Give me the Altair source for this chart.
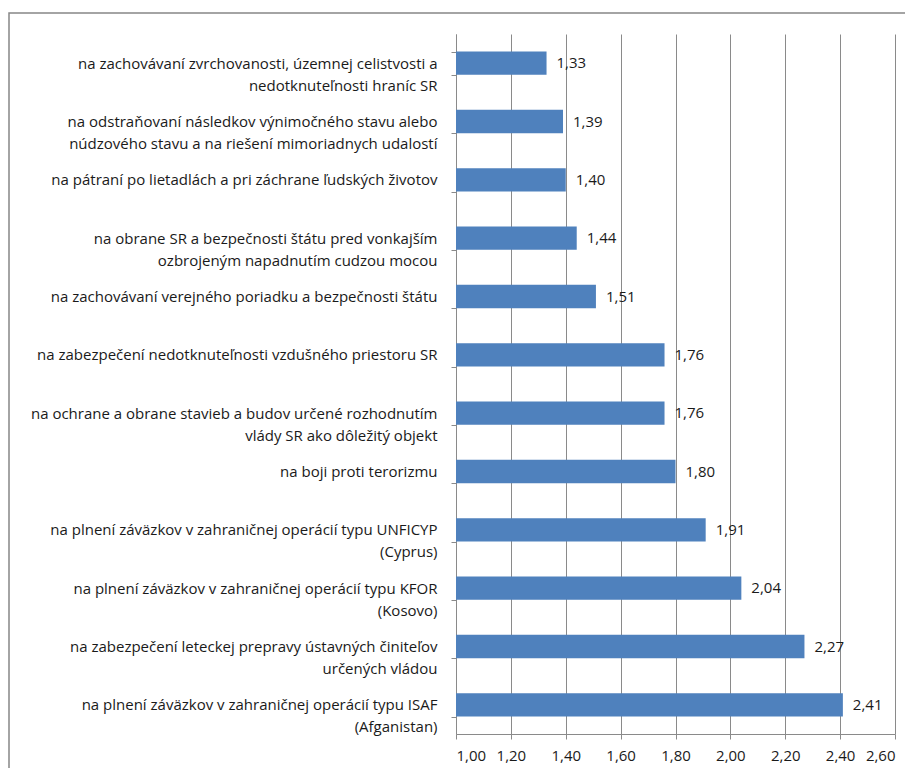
import altair as alt
import pandas as pd

labels = [
    "na zachovávaní zvrchovanosti, územnej celistvosti a|nedotknuteľnosti hraníc SR",
    "na odstraňovaní následkov výnimočného stavu alebo|núdzového stavu a  na riešení mimoriadnych udalostí",
    "na pátraní po lietadlách a pri záchrane ľudských životov",
    "na obrane SR a bezpečnosti štátu pred vonkajším|ozbrojeným napadnutím cudzou mocou",
    "na zachovávaní verejného poriadku a bezpečnosti štátu",
    "na zabezpečení nedotknuteľnosti vzdušného priestoru SR",
    "na ochrane a obrane stavieb a budov určené rozhodnutím|vlády SR  ako dôležitý objekt",
    "na boji proti terorizmu",
    "na plnení záväzkov v zahraničnej operácií typu UNFICYP|(Cyprus)",
    "na plnení záväzkov v zahraničnej operácií typu KFOR|(Kosovo)",
    "na zabezpečení leteckej prepravy ústavných činiteľov|určených vládou",
    "na plnení záväzkov v zahraničnej operácií typu ISAF|(Afganistan)",
]
values = [1.33, 1.39, 1.40, 1.44, 1.51, 1.76, 1.76, 1.80, 1.91, 2.04, 2.27, 2.41]
x_ticks = [1.0, 1.2, 1.4, 1.6, 1.8, 2.0, 2.2, 2.4, 2.6]

df = pd.DataFrame({"label": labels, "value": values})

GRAY = "#8a8a8a"
FONT = "Open Sans"
BLUE = "#4F81BD"
TXT = "#1a1a1a"

y_enc = alt.Y(
    "label:N",
    sort=labels,
    scale=alt.Scale(paddingInner=0.6, paddingOuter=0.3),
    axis=alt.Axis(
        title=None,
        labelExpr="split(datum.label, '|')",
        labelAlign="right",
        labelFont=FONT,
        labelFontSize=15,
        labelLineHeight=22,
        labelPadding=14,
        labelColor=TXT,
        labelLimit=600,
        tickBand="extent",
        ticks=True,
        tickSize=5,
        tickColor=GRAY,
        domainColor=GRAY,
        grid=False,
    ),
)

x_scale = alt.Scale(domain=[1.0, 2.6], zero=False, nice=False)

bars = alt.Chart(df).mark_bar(color=BLUE).encode(
    x=alt.X(
        "value:Q",
        scale=x_scale,
        axis=alt.Axis(
            title=None,
            values=x_ticks,
            labelExpr="replace(format(datum.value, '.2f'), '.', ',')",
            labelFont=FONT,
            labelFontSize=15,
            labelColor=TXT,
            labelPadding=9,
            tickSize=5,
            tickColor=GRAY,
            domainColor=GRAY,
            grid=True,
            gridColor=GRAY,
            gridWidth=1,
        ),
    ),
    x2=alt.datum(1.0),
    y=y_enc,
)

text = alt.Chart(df).transform_calculate(
    lbl="replace(format(datum.value, '.2f'), '.', ',')"
).mark_text(
    align="left", baseline="middle", dx=10, font=FONT, fontSize=15, color=TXT
).encode(
    x=alt.X("value:Q", scale=x_scale),
    y=alt.Y("label:N", sort=labels),
    text="lbl:N",
)

frame = alt.Chart(pd.DataFrame({"a": [0]})).mark_rect(
    fill=None, stroke="#878787", strokeWidth=1.5
).encode(
    x=alt.value(-447),
    y=alt.value(-21),
    x2=alt.value(1000),
    y2=alt.value(1000),
)

chart = alt.layer(frame, bars, text).properties(
    width=439,
    height=700,
    autosize=alt.AutoSizeParams(type="none"),
    padding={"left": 448, "top": 26, "right": 10, "bottom": 34},
).configure_view(stroke=None)

chart.save("out.html", embed_options={"renderer": "svg", "actions": False})
